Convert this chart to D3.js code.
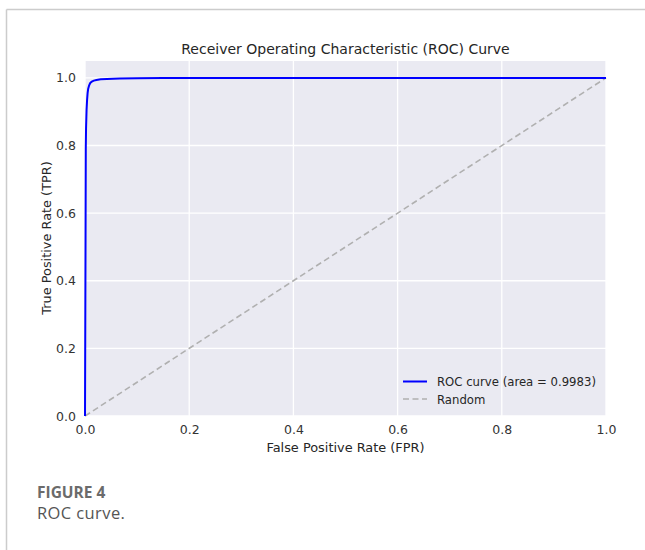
<!DOCTYPE html>
<html>
<head>
<meta charset="utf-8">
<script src="https://cdn.jsdelivr.net/npm/d3@7"></script>
<style>
  body { margin: 0; background: #fff; }
  svg { display: block; }
</style>
</head>
<body>
<svg id="chart" width="645" height="550"></svg>
<script>
// ROC curve (false positive rate vs true positive rate)
var fpr = [0, 0.001, 0.0015, 0.002, 0.003, 0.004, 0.005, 0.006, 0.008, 0.010, 0.013, 0.017, 0.022, 0.03, 0.042, 0.067, 0.1, 0.15, 1];
var tpr = [0, 0.50, 0.79, 0.85, 0.905, 0.935, 0.955, 0.967, 0.978, 0.985, 0.989, 0.992, 0.994, 0.996, 0.997, 0.998, 0.999, 1.0, 1.0];
var randomX = [0, 1];
var randomY = [0, 1];
var xTicks = [0, 0.2, 0.4, 0.6, 0.8, 1.0];
var yTicks = [0, 0.2, 0.4, 0.6, 0.8, 1.0];
var legendLabels = ["ROC curve (area = 0.9983)", "Random"];

var svg = d3.select("#chart");
var font = "'DejaVu Sans', sans-serif";

// page frame
svg.append("line").attr("x1", 6.5).attr("x2", 645).attr("y1", 9.5).attr("y2", 9.5)
    .attr("stroke", "#cccccc").attr("stroke-width", 1.5);
svg.append("line").attr("x1", 6.5).attr("x2", 6.5).attr("y1", 9.5).attr("y2", 550)
    .attr("stroke", "#cccccc").attr("stroke-width", 1.5);

var x = d3.scaleLinear().domain([0, 1]).range([85, 606]);
var y = d3.scaleLinear().domain([0, 1.05]).range([416, 61]);

// axes background
svg.append("rect")
    .attr("x", x(0)).attr("y", y(1.05))
    .attr("width", x(1) - x(0)).attr("height", y(0) - y(1.05))
    .attr("fill", "#eaeaf2");

// grid
svg.append("g").selectAll("line").data(xTicks).enter().append("line")
    .attr("x1", function (d) { return x(d); }).attr("x2", function (d) { return x(d); })
    .attr("y1", y(0)).attr("y2", y(1.05))
    .attr("stroke", "#fff").attr("stroke-width", 1.3);
svg.append("g").selectAll("line").data(yTicks).enter().append("line")
    .attr("x1", x(0)).attr("x2", x(1))
    .attr("y1", function (d) { return y(d); }).attr("y2", function (d) { return y(d); })
    .attr("stroke", "#fff").attr("stroke-width", 1.3);

// axes (tick labels only, seaborn style)
var xAxis = svg.append("g").attr("transform", "translate(0," + y(0) + ")")
    .call(d3.axisBottom(x).tickValues(xTicks).tickFormat(d3.format(".1f")).tickSize(0).tickPadding(9));
var yAxis = svg.append("g").attr("transform", "translate(" + x(0) + ",0)")
    .call(d3.axisLeft(y).tickValues(yTicks).tickFormat(d3.format(".1f")).tickSize(0).tickPadding(9));
[xAxis, yAxis].forEach(function (a) {
    a.select(".domain").remove();
    a.selectAll("text").attr("fill", "#333").style("font-family", font).style("font-size", "12.5px");
});

// random diagonal
var line = d3.line().x(function (d) { return x(d[0]); }).y(function (d) { return y(d[1]); });
svg.append("path")
    .datum(d3.zip(randomX, randomY))
    .attr("d", line)
    .attr("fill", "none").attr("stroke", "#b0b0b0").attr("stroke-width", 1.6)
    .attr("stroke-dasharray", "6,3.5");

// ROC curve
svg.append("path")
    .datum(d3.zip(fpr, tpr))
    .attr("d", line)
    .attr("fill", "none").attr("stroke", "#0000ff").attr("stroke-width", 2)
    .attr("stroke-linejoin", "round");

// title and axis labels
svg.append("text").attr("x", 345.5).attr("y", 54).attr("text-anchor", "middle")
    .style("font-family", font).style("font-size", "14px").attr("fill", "#262626")
    .text("Receiver Operating Characteristic (ROC) Curve");
svg.append("text").attr("x", 345.5).attr("y", 452).attr("text-anchor", "middle")
    .style("font-family", font).style("font-size", "12.9px").attr("fill", "#262626")
    .text("False Positive Rate (FPR)");
svg.append("text").attr("transform", "translate(51,238) rotate(-90)").attr("text-anchor", "middle")
    .style("font-family", font).style("font-size", "12.9px").attr("fill", "#262626")
    .text("True Positive Rate (TPR)");

// legend
var legendStyle = [
    { stroke: "#0000ff", width: 2, dash: null },
    { stroke: "#b0b0b0", width: 1.6, dash: "6,3.5" }
];
var legend = svg.append("g").selectAll("g").data(legendLabels).enter().append("g")
    .attr("transform", function (d, i) { return "translate(403," + (381.5 + i * 17.5) + ")"; });
legend.append("line").attr("x1", 0).attr("x2", 24)
    .attr("stroke", function (d, i) { return legendStyle[i].stroke; })
    .attr("stroke-width", function (d, i) { return legendStyle[i].width; })
    .attr("stroke-dasharray", function (d, i) { return legendStyle[i].dash; });
legend.append("text").attr("x", 34).attr("y", 4.5)
    .style("font-family", font).style("font-size", "11.7px").attr("fill", "#262626")
    .text(function (d) { return d; });

// caption
svg.append("text").attr("x", 37).attr("y", 497.5)
    .style("font-family", "'Open Sans', sans-serif").style("font-size", "15.5px").style("font-weight", "bold")
    .attr("fill", "#6b6b6b").text("FIGURE 4");
svg.append("text").attr("x", 37).attr("y", 519)
    .style("font-family", "'Open Sans', sans-serif").style("font-size", "16.5px")
    .style("letter-spacing", "0.4px")
    .attr("fill", "#555").text("ROC curve.");
</script>
</body>
</html>
